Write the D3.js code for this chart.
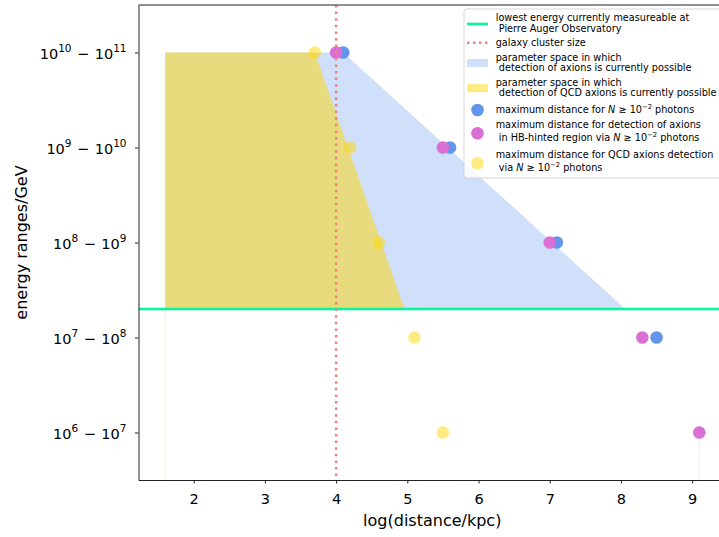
<!DOCTYPE html>
<html>
<head>
<meta charset="utf-8">
<script src="https://cdn.jsdelivr.net/npm/d3@7"></script>
<style>
  body { margin: 0; background: #fff; }
  text { font-family: "DejaVu Sans", sans-serif; }
</style>
</head>
<body>
<svg id="chart" width="719" height="537"></svg>
<script>
// energy decades (log10 of lower bound, GeV) shown on the y axis
const energyDecades = [6, 7, 8, 9, 10];
// log10(distance / kpc) ticks
const distanceTicks = [2, 3, 4, 5, 6, 7, 8, 9];

// maximum distance for N >= 1e-2 photons
const allAxionDistance = [4.1, 5.6, 7.1, 8.5];
const allAxionDecade = [10, 9, 8, 7];
// HB-hinted region
const hbAxionDistance = [4.0, 5.5, 7.0, 8.3, 9.1];
const hbAxionDecade = [10, 9, 8, 7, 6];
// QCD axions
const qcdAxionDistance = [3.7, 4.2, 4.6, 5.1, 5.5];
const qcdAxionDecade = [10, 9, 8, 7, 6];

// Pierre Auger lowest measurable energy: log10(2e7 GeV)
const augerThreshold = 7.3;
// galaxy cluster size, log10(kpc)
const clusterSize = 4;

// currently accessible parameter spaces (polygon vertices in data units)
const allAxionRegionX = [1.6, 1.6, 4.1, 8.06];
const allAxionRegionY = [7.3, 10, 10, 7.3];
const qcdAxionRegionX = [1.6, 1.6, 3.7, 4.96];
const qcdAxionRegionY = [7.3, 10, 10, 7.3];

const svg = d3.select("#chart");
const plotLeft = 138.5, plotRight = 726, plotTop = 5, plotBottom = 480;

const x = d3.scaleLinear().domain([1.225, 9.475]).range([plotLeft, plotRight]);
const y = d3.scaleLinear().domain([5.5, 10.5]).range([plotBottom, plotTop]);

const blueFill = "rgba(100,149,237,0.3)";
const goldFill = "rgba(255,215,0,0.5)";
const blueDot = "#6495ed";
const orchidDot = "#da70d6";
const goldDot = "rgba(255,215,0,0.5)";
const springGreen = "#00fa9a";
const coral = "#f08080";

svg.append("defs").append("clipPath").attr("id", "plotClip")
  .append("rect").attr("x", plotLeft).attr("y", plotTop)
  .attr("width", plotRight - plotLeft).attr("height", plotBottom - plotTop);

const plot = svg.append("g").attr("clip-path", "url(#plotClip)");

const poly = (xs, ys) => xs.map((v, i) => [x(v), y(ys[i])]);
const line = d3.line();

// filled parameter spaces
plot.append("path")
  .attr("d", line(poly(allAxionRegionX, allAxionRegionY)) + "Z")
  .attr("fill", blueFill);
plot.append("path")
  .attr("d", line(poly(qcdAxionRegionX, qcdAxionRegionY)) + "Z")
  .attr("fill", goldFill);

// faint degenerate edges left by the fills below their regions
plot.append("line")
  .attr("x1", x(qcdAxionRegionX[0])).attr("x2", x(qcdAxionRegionX[0]))
  .attr("y1", y(augerThreshold)).attr("y2", plotBottom)
  .attr("stroke", "rgba(230,220,150,0.35)").attr("stroke-width", 1);
plot.append("line")
  .attr("x1", x(hbAxionDistance[4])).attr("x2", x(hbAxionDistance[4]))
  .attr("y1", y(hbAxionDecade[4])).attr("y2", plotBottom)
  .attr("stroke", "rgba(180,190,240,0.25)").attr("stroke-width", 1);

// scatter markers
const r = 6.3;
plot.selectAll("circle.all").data(allAxionDistance).join("circle")
  .attr("class", "all")
  .attr("cx", d => x(d)).attr("cy", (d, i) => y(allAxionDecade[i]))
  .attr("r", r).attr("fill", blueDot);
plot.selectAll("circle.hb").data(hbAxionDistance).join("circle")
  .attr("class", "hb")
  .attr("cx", d => x(d)).attr("cy", (d, i) => y(hbAxionDecade[i]))
  .attr("r", r).attr("fill", orchidDot);
plot.selectAll("circle.qcd").data(qcdAxionDistance).join("circle")
  .attr("class", "qcd")
  .attr("cx", d => x(d)).attr("cy", (d, i) => y(qcdAxionDecade[i]))
  .attr("r", r).attr("fill", goldDot);

// reference lines
plot.append("line")
  .attr("x1", plotLeft).attr("x2", plotRight)
  .attr("y1", y(augerThreshold)).attr("y2", y(augerThreshold))
  .attr("stroke", springGreen).attr("stroke-width", 2.6);
plot.append("line")
  .attr("x1", x(clusterSize)).attr("x2", x(clusterSize))
  .attr("y1", plotTop).attr("y2", plotBottom)
  .attr("stroke", coral).attr("stroke-width", 2.5)
  .attr("stroke-dasharray", "2.5,4.1");

// axes
const spine = "#222";
const xAxis = svg.append("g").attr("transform", `translate(0,${plotBottom})`)
  .call(d3.axisBottom(x).tickValues(distanceTicks).tickSizeInner(3.5).tickSizeOuter(0).tickPadding(10.5));
xAxis.selectAll("text").attr("font-size", 14.5).attr("fill", "#000")
  .attr("font-family", "DejaVu Sans, sans-serif");

const yAxis = svg.append("g").attr("transform", `translate(${plotLeft},0)`)
  .call(d3.axisLeft(y).tickValues(energyDecades).tickSizeInner(3.5).tickSizeOuter(0).tickFormat(""));
yAxis.selectAll(".tick text").each(function (d) {
  const t = d3.select(this).text(null)
    .attr("x", -12).attr("dy", null).attr("y", 5.5)
    .attr("font-size", 14.5).attr("fill", "#000")
    .attr("font-family", "DejaVu Sans, sans-serif");
  t.append("tspan").text("10");
  t.append("tspan").attr("font-size", 10.5).attr("dy", -6.5).text(String(d));
  t.append("tspan").attr("dy", 6.5).attr("dx", 5.5).text("\u2212");
  t.append("tspan").attr("dx", 5.5).text("10");
  t.append("tspan").attr("font-size", 10.5).attr("dy", -6.5).text(String(d + 1));
});
[xAxis, yAxis].forEach(g => {
  g.select(".domain").attr("stroke", spine).attr("stroke-width", 1);
  g.selectAll(".tick line").attr("stroke", spine).attr("stroke-width", 1);
});
svg.append("line")
  .attr("x1", plotLeft).attr("x2", plotRight).attr("y1", plotTop).attr("y2", plotTop)
  .attr("stroke", spine).attr("stroke-width", 1);

// axis labels
svg.append("text")
  .attr("x", (plotLeft + plotRight) / 2).attr("y", 526)
  .attr("text-anchor", "middle").attr("font-size", 16)
  .text("log(distance/kpc)");
svg.append("text")
  .attr("transform", `translate(27,${(plotTop + plotBottom) / 2}) rotate(-90)`)
  .attr("text-anchor", "middle").attr("font-size", 16)
  .text("energy ranges/GeV");

// legend
const legend = svg.append("g");
legend.append("rect")
  .attr("x", 464).attr("y", 9).attr("width", 280).attr("height", 169)
  .attr("rx", 2.5)
  .attr("fill", "rgba(255,255,255,0.8)")
  .attr("stroke", "rgba(204,204,204,0.8)").attr("stroke-width", 1);

const mathN = [
  { t: "N", i: true }, { t: " \u2265 10" }, { t: "\u22122", sup: true }
];
const entries = [
  { kind: "line", color: springGreen, cy: 24, base: 21,
    lines: [[{ t: "lowest energy currently measureable at" }], [{ t: " Pierre Auger Observatory" }]] },
  { kind: "dots", color: coral, cy: 42.7, base: 46,
    lines: [[{ t: "galaxy cluster size" }]] },
  { kind: "patch", color: blueFill, cy: 63, base: 60.5,
    lines: [[{ t: "parameter space in which" }], [{ t: " detection of axions is currently possible" }]] },
  { kind: "patch", color: goldFill, cy: 88.2, base: 85.5,
    lines: [[{ t: "parameter space in which" }], [{ t: " detection of QCD axions is currently possible" }]] },
  { kind: "circle", color: blueDot, cy: 110, base: 113.3,
    lines: [[{ t: "maximum distance for " }, ...mathN, { t: " photons" }]] },
  { kind: "circle", color: orchidDot, cy: 133.3, base: 127.8, gap: 13,
    lines: [[{ t: "maximum distance for detection of axions" }],
            [{ t: " in HB-hinted region via " }, ...mathN, { t: " photons" }]] },
  { kind: "circle", color: goldDot, cy: 163.3, base: 157.8, gap: 13,
    lines: [[{ t: "maximum distance for QCD axions detection" }],
            [{ t: " via " }, ...mathN, { t: " photons" }]] }
];

const hx0 = 467, hx1 = 488, tx = 495.7;
entries.forEach(e => {
  if (e.kind === "line") {
    legend.append("line").attr("x1", hx0).attr("x2", hx1).attr("y1", e.cy).attr("y2", e.cy)
      .attr("stroke", e.color).attr("stroke-width", 2.6);
  } else if (e.kind === "dots") {
    legend.append("line").attr("x1", hx0).attr("x2", hx1).attr("y1", e.cy).attr("y2", e.cy)
      .attr("stroke", e.color).attr("stroke-width", 2.5).attr("stroke-dasharray", "2.5,3.5");
  } else if (e.kind === "patch") {
    legend.append("rect").attr("x", hx0).attr("y", e.cy - 4).attr("width", hx1 - hx0).attr("height", 8)
      .attr("fill", e.color);
  } else {
    legend.append("circle").attr("cx", (hx0 + hx1) / 2).attr("cy", e.cy).attr("r", r)
      .attr("fill", e.color);
  }
  const gap = e.gap || 10.7;
  e.lines.forEach((parts, li) => {
    const t = legend.append("text")
      .attr("x", tx).attr("y", e.base + li * gap)
      .attr("font-size", 9.7).attr("fill", "#000")
      .style("white-space", "pre");
    let raised = false;
    parts.forEach(p => {
      const s = t.append("tspan").text(p.t);
      if (p.i) s.attr("font-style", "italic");
      if (p.sup) { s.attr("font-size", 6.8).attr("dy", -4); raised = true; }
      else if (raised) { s.attr("dy", 4); raised = false; }
    });
  });
});
</script>
</body>
</html>
